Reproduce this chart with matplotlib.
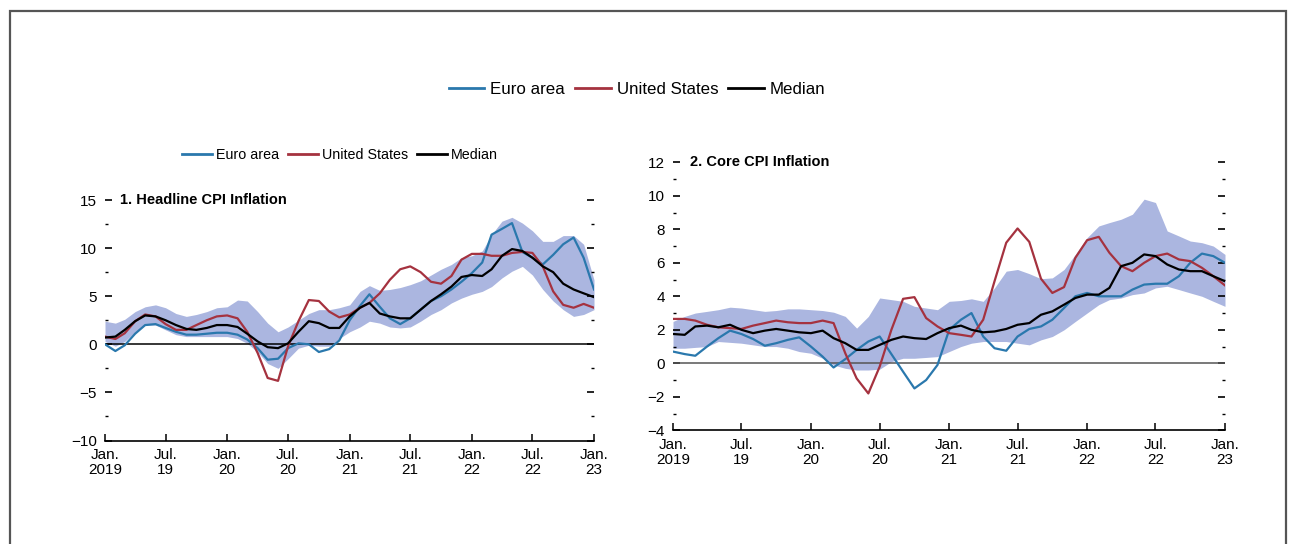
import matplotlib.pyplot as plt
import matplotlib.patches as mpatches
from matplotlib.lines import Line2D
from matplotlib.ticker import MultipleLocator
import matplotlib.transforms as mtransforms
import pandas as pd

plt.rcParams['font.family'] = ['Liberation Sans', 'DejaVu Sans']

months = pd.date_range('2019-01-01', periods=49, freq='MS')
tick_dates = pd.date_range('2019-01-01', periods=9, freq='6MS')
tick_labels = ['Jan.\n2019', 'Jul.\n19', 'Jan.\n20', 'Jul.\n20', 'Jan.\n21',
               'Jul.\n21', 'Jan.\n22', 'Jul.\n22', 'Jan.\n23']

# 1. Headline CPI inflation (percent)
head_euro = [0.0, -0.7, -0.1, 1.1, 2.0, 2.1, 1.7, 1.3, 1.0, 1.0, 1.1, 1.2,
             1.2, 1.0, 0.5, -0.4, -1.6, -1.5, -0.4, 0.1, 0.0, -0.8, -0.5, 0.4,
             2.5, 4.0, 5.2, 3.9, 2.7, 2.1, 2.7, 3.6, 4.5, 5.0, 5.7, 6.5,
             7.4, 8.5, 11.4, 12.0, 12.6, 9.6, 9.0, 8.3, 9.3, 10.4, 11.1, 9.0,
             5.7]
head_us = [0.8, 0.55, 1.15, 2.4, 3.1, 2.9, 2.1, 1.5, 1.5, 2.0, 2.5, 2.9,
           3.0, 2.7, 1.3, -0.9, -3.5, -3.8, -0.2, 2.4, 4.6, 4.5, 3.4, 2.8,
           3.1, 3.8, 4.3, 5.3, 6.7, 7.8, 8.1, 7.5, 6.5, 6.3, 7.1, 8.8,
           9.4, 9.4, 9.2, 9.2, 9.5, 9.6, 9.5, 8.1, 5.5, 4.1, 3.8, 4.2,
           3.8]
head_median = [0.7, 0.8, 1.5, 2.4, 3.0, 2.9, 2.5, 2.0, 1.6, 1.5, 1.7, 2.0,
               2.0, 1.8, 1.1, 0.3, -0.3, -0.4, 0.1, 1.3, 2.4, 2.2, 1.7, 1.7,
               2.9, 3.8, 4.3, 3.2, 2.9, 2.7, 2.7, 3.6, 4.5, 5.2, 6.0, 7.0,
               7.2, 7.1, 7.8, 9.2, 9.9, 9.7, 9.0, 8.1, 7.5, 6.3, 5.7, 5.3,
               4.9]
head_upper = [2.4, 2.2, 2.6, 3.4, 3.9, 4.1, 3.8, 3.2, 2.9, 3.1, 3.4, 3.8,
              3.9, 4.6, 4.5, 3.4, 2.2, 1.3, 1.8, 2.5, 3.2, 3.6, 3.6, 3.8,
              4.1, 5.5, 6.1, 5.6, 5.7, 5.9, 6.2, 6.6, 7.2, 7.8, 8.3, 9.0,
              9.2, 9.7, 11.4, 12.8, 13.2, 12.6, 11.8, 10.7, 10.7, 11.3, 11.3, 10.4,
              6.7]
head_lower = [0.3, -0.2, 0.3, 1.3, 2.0, 2.0, 1.5, 1.0, 0.8, 0.8, 0.8, 0.8,
              0.8, 0.6, 0.1, -0.8, -2.0, -2.5, -1.5, -0.4, -0.1, -0.2, -0.2, 0.6,
              1.3, 1.8, 2.4, 2.2, 1.8, 1.7, 1.8, 2.4, 3.1, 3.6, 4.3, 4.8,
              5.2, 5.5, 6.0, 6.9, 7.6, 8.1, 7.2, 5.7, 4.5, 3.6, 2.9, 3.1,
              3.6]

# 2. Core CPI inflation (percent)
core_euro = [0.7, 0.55, 0.45, 1.0, 1.5, 1.95, 1.75, 1.45, 1.05, 1.2, 1.4, 1.55,
             1.0, 0.4, -0.25, 0.25, 0.8, 1.3, 1.6, 0.55, -0.5, -1.5, -1.0, -0.1,
             2.0, 2.6, 3.0, 1.6, 0.9, 0.75, 1.6, 2.05, 2.2, 2.6, 3.3, 4.0,
             4.2, 4.0, 4.0, 4.0, 4.4, 4.7, 4.75, 4.75, 5.2, 6.0, 6.55, 6.4,
             6.0]
core_us = [2.65, 2.65, 2.55, 2.3, 2.15, 2.1, 2.05, 2.25, 2.4, 2.55, 2.45, 2.4,
           2.4, 2.55, 2.4, 0.6, -0.9, -1.8, -0.2, 2.0, 3.85, 3.95, 2.7, 2.2,
           1.8, 1.7, 1.6, 2.6, 4.9, 7.2, 8.05, 7.25, 5.05, 4.2, 4.55, 6.3,
           7.35, 7.55, 6.6, 5.8, 5.5, 6.0, 6.4, 6.55, 6.2, 6.1, 5.7, 5.2,
           4.65]
core_median = [1.75, 1.7, 2.2, 2.25, 2.15, 2.3, 2.0, 1.8, 1.95, 2.05, 1.95, 1.85,
               1.8, 1.95, 1.5, 1.2, 0.8, 0.8, 1.1, 1.4, 1.6, 1.5, 1.45, 1.8,
               2.1, 2.25, 2.0, 1.85, 1.9, 2.05, 2.3, 2.4, 2.9, 3.1, 3.5, 3.9,
               4.1, 4.1, 4.5, 5.8, 6.0, 6.5, 6.4, 5.9, 5.6, 5.5, 5.5, 5.2,
               4.9]
core_upper = [2.5, 2.8, 3.0, 3.1, 3.2, 3.35, 3.3, 3.2, 3.1, 3.15, 3.25, 3.25,
              3.2, 3.15, 3.05, 2.8, 2.1, 2.8, 3.9, 3.8, 3.7, 3.4, 3.3, 3.2,
              3.7, 3.75, 3.85, 3.7, 4.5, 5.5, 5.6, 5.35, 5.05, 5.1, 5.6, 6.5,
              7.5, 8.2, 8.4, 8.6, 8.9, 9.8, 9.6, 7.9, 7.6, 7.3, 7.2, 7.0,
              6.5]
core_lower = [0.9, 0.9, 0.95, 1.0, 1.3, 1.25, 1.2, 1.1, 1.0, 1.0, 0.9, 0.7,
              0.6, 0.3, -0.1, -0.3, -0.4, -0.4, -0.35, 0.1, 0.3, 0.3, 0.35, 0.4,
              0.7, 1.0, 1.2, 1.3, 1.3, 1.3, 1.2, 1.1, 1.4, 1.6, 2.0, 2.5,
              3.0, 3.5, 3.8, 3.9, 4.1, 4.2, 4.5, 4.6, 4.4, 4.2, 4.0, 3.7,
              3.4]

BLUE = '#2a78ad'
RED = '#a5323f'
BAND = '#abb6e0'

W, H = 1296, 544
fig = plt.figure(figsize=(W / 100, H / 100), dpi=100)

# thin frame around the exhibit
fig.add_artist(mpatches.Rectangle((10 / W, -0.2), 1276 / W, 1.2 - 10.5 / H,
                                  transform=fig.transFigure, fill=False,
                                  edgecolor='#555555', lw=1.6))


def make_panel(rect, title, euro, us, median, lower, upper, ylim, major, minor, zero_col):
    ax = fig.add_axes(rect)
    ax.fill_between(months, lower, upper, color=BAND, lw=0, zorder=1)
    ax.axhline(0, color=zero_col, lw=1.1, zorder=2)
    ax.plot(months, euro, color=BLUE, lw=1.6, zorder=3)
    ax.plot(months, us, color=RED, lw=1.6, zorder=3)
    ax.plot(months, median, color='black', lw=1.6, zorder=4)

    ax.set_xlim(months[0], months[-1])
    ax.set_ylim(*ylim)
    ax.set_xticks(tick_dates)
    ax.set_xticklabels(tick_labels, fontsize=11, linespacing=1.1)
    ax.yaxis.set_major_locator(MultipleLocator(major))
    ax.yaxis.set_minor_locator(MultipleLocator(minor))
    ax.tick_params(axis='x', direction='in', length=5, width=1.1, pad=5.5)
    ax.tick_params(axis='x', which='minor', bottom=False)
    ax.tick_params(axis='y', which='major', direction='in', length=5, width=1.2,
                   left=True, right=True, labelsize=11, pad=6)
    ax.tick_params(axis='y', which='minor', direction='in', length=2, width=1,
                   left=True, right=True)
    for s in ('top', 'left', 'right'):
        ax.spines[s].set_visible(False)
    ax.spines['bottom'].set_linewidth(1.2)

    trans = mtransforms.blended_transform_factory(ax.transAxes, ax.transData)
    ax.text(0.03, ylim[1], title, transform=trans, fontsize=10.5,
            fontweight='bold', va='center', ha='left')
    return ax


make_panel([105 / W, 103.5 / H, 489 / W, 240.5 / H], '1. Headline CPI Inflation',
           head_euro, head_us, head_median, head_lower, head_upper,
           (-10, 15), 5, 2.5, 'black')
make_panel([673 / W, 113.7 / H, 552 / W, 268 / H], '2. Core CPI Inflation',
           core_euro, core_us, core_median, core_lower, core_upper,
           (-4, 12), 2, 1, '#555555')

handles = [Line2D([], [], color=BLUE, lw=2),
           Line2D([], [], color=RED, lw=2),
           Line2D([], [], color='black', lw=2)]
names = ['Euro area', 'United States', 'Median']

fig.legend(handles, names, loc='center', bbox_to_anchor=(637 / W, 1 - 89 / H),
           ncol=3, frameon=False, fontsize=12.2, handlelength=2.1,
           handletextpad=0.35, columnspacing=0.6, borderpad=0)
fig.legend(handles, names, loc='center', bbox_to_anchor=(340 / W, 1 - 155 / H),
           ncol=3, frameon=False, fontsize=10.3, handlelength=2.1,
           handletextpad=0.3, columnspacing=0.6, borderpad=0)

fig.savefig('out.png', dpi=100)
